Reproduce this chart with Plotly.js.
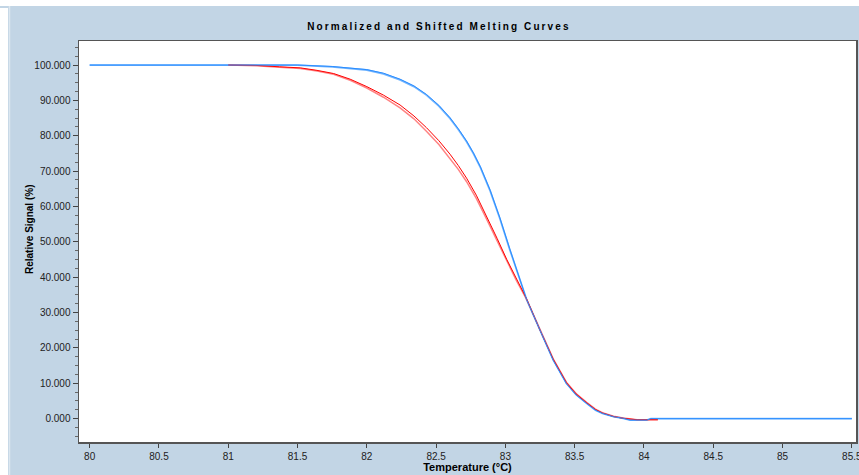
<!DOCTYPE html>
<html>
<head>
<meta charset="utf-8">
<script src="https://cdn.plot.ly/plotly-3.0.1.min.js"></script>
<style>
html,body{margin:0;padding:0;background:#fff;}
#chart{width:859px;height:475px;}
.gtitle{letter-spacing:2.1px;}
</style>
</head>
<body>
<div id="chart"></div>
<script>
// Blue curve (reference sample)
const blueT = [80.0, 81.0, 81.5, 81.75, 82.0, 82.12, 82.24, 82.34, 82.43, 82.52, 82.6, 82.66, 82.72, 82.77, 82.82, 82.89, 82.96, 83.03, 83.1, 83.153, 83.25, 83.345, 83.44, 83.51, 83.586, 83.65, 83.7, 83.78, 83.85, 83.9, 84.02, 84.05, 85.5];
const blueV = [100, 100, 100, 99.5, 98.6, 97.5, 95.8, 93.9, 91.5, 88.4, 84.9, 81.8, 78.3, 74.9, 71.0, 64.4, 56.6, 48.0, 39.9, 33.7, 25.0, 16.6, 10.0, 6.8, 4.35, 2.4, 1.5, 0.57, 0.1, -0.4, -0.4, 0, 0];
const blue2V = [100, 100, 100, 99.6, 98.7, 97.7, 96.0, 94.1, 91.7, 88.6, 85.1, 82.0, 78.5, 75.1, 71.2, 64.6, 56.8, 48.2, 40.0, 33.7, 25.0, 16.5, 9.9, 6.7, 4.3, 2.4, 1.5, 0.55, 0.1, -0.4, -0.4, 0, 0];
// Red curves (samples)
const redT = [81.0, 81.2, 81.37, 81.52, 81.64, 81.76, 81.88, 82.0, 82.12, 82.24, 82.34, 82.43, 82.52, 82.6, 82.66, 82.72, 82.79, 82.86, 82.94, 83.01, 83.08, 83.153, 83.25, 83.345, 83.44, 83.51, 83.586, 83.65, 83.7, 83.78, 83.85, 83.95, 84.1];
const red1V = [100, 99.9, 99.5, 99.2, 98.5, 97.6, 96.0, 93.9, 91.5, 88.7, 85.6, 82.3, 78.6, 74.8, 71.6, 68.0, 63.2, 57.6, 51.0, 45.0, 39.4, 33.9, 25.0, 16.8, 10.2, 7.0, 4.5, 2.6, 1.6, 0.6, 0.1, -0.3, -0.3];
const red2V = [100, 99.8, 99.4, 99.0, 98.3, 97.4, 95.7, 93.5, 90.9, 87.9, 84.8, 81.3, 77.5, 73.6, 70.5, 67.0, 62.3, 56.8, 50.3, 44.4, 39.0, 33.7, 25.1, 16.9, 10.3, 7.1, 4.6, 2.7, 1.7, 0.7, 0.2, -0.3, -0.3];

const xTickVals = [80, 80.5, 81, 81.5, 82, 82.5, 83, 83.5, 84, 84.5, 85, 85.5];
const xTickText = ['80', '80.5', '81', '81.5', '82', '82.5', '83', '83.5', '84', '84.5', '85', '85.5'];
const yTickVals = [0, 10, 20, 30, 40, 50, 60, 70, 80, 90, 100];
const yTickText = ['0.000', '10.000', '20.000', '30.000', '40.000', '50.000', '60.000', '70.000', '80.000', '90.000', '100.000'];

const traces = [
  {x: blueT, y: blueV, mode: 'lines', line: {color: '#73B6FF', width: 1.8}, hoverinfo: 'skip'},
  {x: redT, y: red2V, mode: 'lines', line: {color: 'rgba(255,90,90,0.75)', width: 1.5}, hoverinfo: 'skip'},
  {x: redT, y: red1V, mode: 'lines', line: {color: '#FF0000', width: 1}, hoverinfo: 'skip'},
  {x: blueT, y: blue2V, mode: 'lines', line: {color: '#2A8CFF', width: 1}, hoverinfo: 'skip'}
];

const tickFont = {family: 'Liberation Sans, Arial, sans-serif', size: 10, color: '#222'};
const boldFont = {family: 'Liberation Sans, Arial, sans-serif', size: 11, color: '#000', weight: 'bold'};
const layout = {
  width: 859, height: 475,
  paper_bgcolor: '#C2D5E5',
  plot_bgcolor: '#FFFFFF',
  showlegend: false,
  margin: {l: 79, r: 3, t: 41, b: 33, pad: 0},
  title: {
    text: 'Normalized and Shifted Melting Curves',
    font: {family: 'Liberation Sans, Arial, sans-serif', size: 10, color: '#000', weight: 'bold'},
    x: 0.511, xref: 'container', xanchor: 'center',
    y: 0.945, yref: 'container', yanchor: 'middle'
  },
  xaxis: {
    range: [79.923, 85.53],
    tickmode: 'array', tickvals: xTickVals, ticktext: xTickText,
    ticks: 'outside', ticklen: 4, tickcolor: '#444', tickwidth: 1,
    ticklabeloverflow: 'allow',
    showgrid: false, zeroline: false,
    showline: true, linecolor: '#555', linewidth: 1.5, mirror: true,
    tickfont: tickFont,
    title: {text: 'Temperature (°C)', font: boldFont, standoff: 1}
  },
  yaxis: {
    range: [-6.6, 106.8],
    tickmode: 'array', tickvals: yTickVals, ticktext: yTickText,
    ticks: 'outside', ticklen: 5, tickcolor: '#444', tickwidth: 1,
    minor: {dtick: 2.5, tick0: 0, ticks: 'outside', ticklen: 3, tickcolor: '#666', showgrid: false},
    showgrid: false, zeroline: false,
    showline: true, linecolor: '#555', linewidth: 1.5, mirror: true,
    tickfont: tickFont
  },
  annotations: [
    {text: 'Relative Signal (%)', font: {family: 'Liberation Sans, Arial, sans-serif', size: 10, color: '#000', weight: 'bold'},
     textangle: -90, showarrow: false,
     xref: 'paper', yref: 'paper', x: (30 - 79) / 777, y: (442 - 230) / 401, xanchor: 'center', yanchor: 'middle'}
  ],
  shapes: [
    {type: 'rect', xref: 'paper', yref: 'paper', x0: -79/777, x1: -71/777, y0: -33/401, y1: 434/401, fillcolor: '#FFFFFF', line: {width: 0}, layer: 'below'},
    {type: 'rect', xref: 'paper', yref: 'paper', x0: -79/777, x1: 3/777 + 1, y0: 1 + 35/401, y1: 1 + 41/401, fillcolor: '#FFFFFF', line: {width: 0}, layer: 'below'},
    {type: 'line', xref: 'paper', yref: 'paper', x0: -69.5/777, x1: -69.5/777, y0: -33/401, y1: 1 + 35/401, line: {color: '#DCE7F0', width: 1.5}, layer: 'below'}
  ]
};

Plotly.newPlot('chart', traces, layout, {staticPlot: true, displayModeBar: false});
</script>
</body>
</html>
